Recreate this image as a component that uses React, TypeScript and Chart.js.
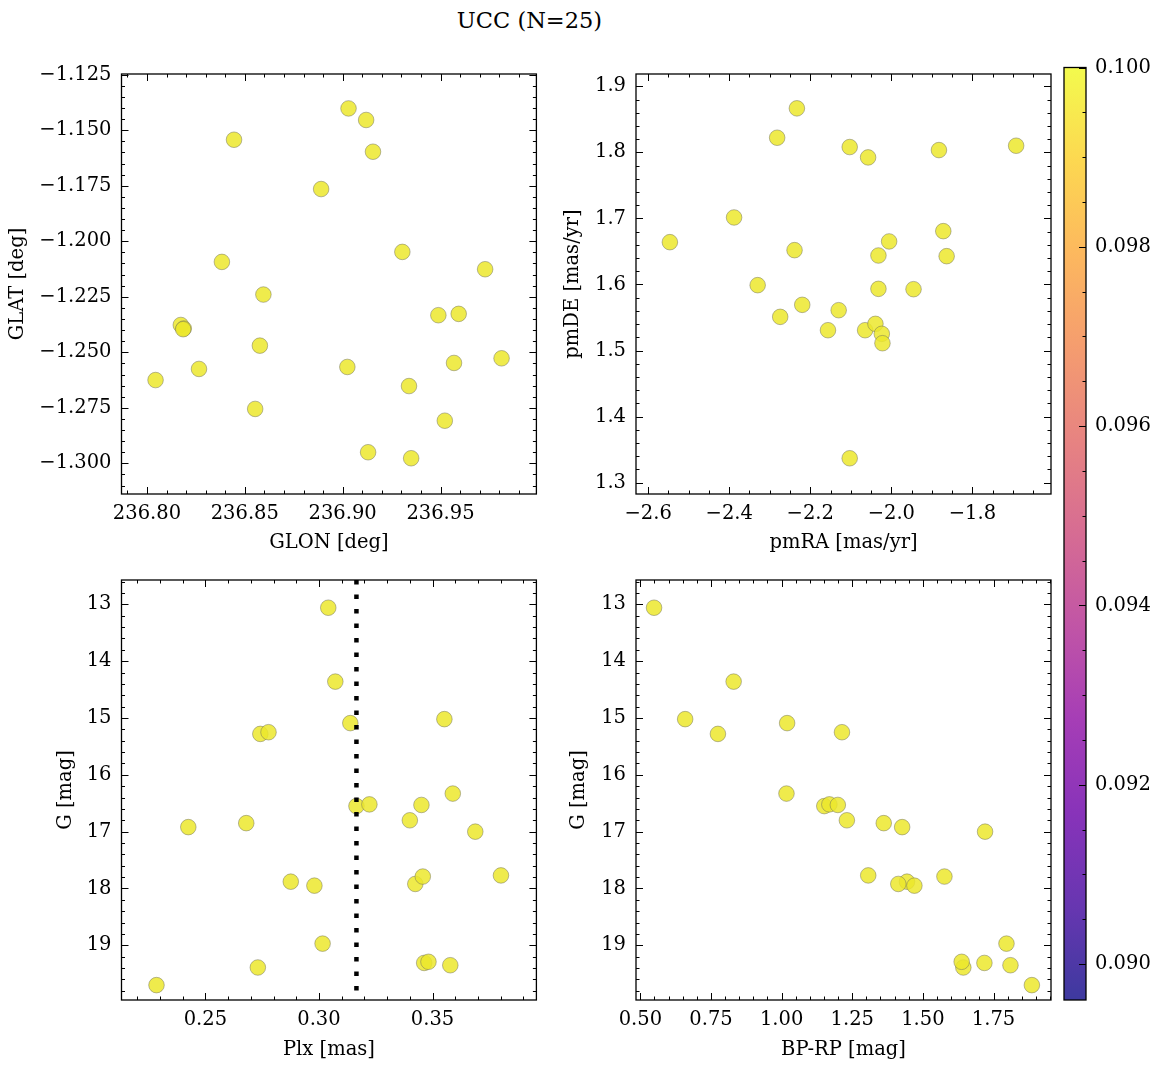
import React, { useEffect, useRef } from "react";
import { Chart, registerables } from "chart.js";

Chart.register(...registerables);

const FONT = "'DejaVu Serif', serif";

// ---------------- data ----------------
const figureTitle = "UCC (N=25)";

// Panel 1: GLON / GLAT
const glon = [236.903, 236.912, 236.9155, 236.8445, 236.889, 236.9305, 236.8383, 236.9728, 236.8595, 236.9489, 236.9593, 236.8173, 236.8188, 236.8185, 236.8577, 236.9812, 236.9024, 236.9569, 236.8266, 236.8044, 236.9339, 236.8553, 236.9522, 236.913, 236.935];
const glat = [-1.1402, -1.1454, -1.1597, -1.1543, -1.1765, -1.2048, -1.2093, -1.2126, -1.224, -1.2333, -1.2327, -1.2377, -1.2393, -1.2396, -1.247, -1.2527, -1.2566, -1.2548, -1.2575, -1.2625, -1.2652, -1.2755, -1.2808, -1.295, -1.2977];

// Panel 2: proper motions
const pmra = [-2.233, -2.2817, -2.1027, -2.0573, -1.8825, -1.692, -2.388, -2.5464, -2.2388, -2.0054, -1.8718, -2.0318, -1.8635, -2.3298, -2.0318, -1.9452, -2.2198, -2.2742, -2.1299, -2.1563, -2.0647, -2.0392, -2.0235, -2.0219, -2.1027];
const pmde = [1.8667, 1.8222, 1.8081, 1.7924, 1.8035, 1.8101, 1.7015, 1.6641, 1.652, 1.6652, 1.6808, 1.6439, 1.6429, 1.599, 1.5934, 1.5929, 1.5692, 1.551, 1.5611, 1.5308, 1.5308, 1.5404, 1.5253, 1.5111, 1.3369];

// Panels 3 & 4: photometry / parallax
const gmag = [13.06, 14.36, 15.02, 15.09, 15.28, 15.25, 16.33, 16.55, 16.52, 16.53, 16.8, 16.85, 16.92, 17.0, 17.77, 17.88, 17.95, 17.92, 17.79, 18.97, 19.39, 19.31, 19.29, 19.35, 19.7];
const plx = [0.3041, 0.3072, 0.3552, 0.3138, 0.2742, 0.2778, 0.3589, 0.3165, 0.3222, 0.3451, 0.34, 0.268, 0.2425, 0.3688, 0.3801, 0.2876, 0.298, 0.3424, 0.3457, 0.3016, 0.2731, 0.3463, 0.3482, 0.3578, 0.2285];
const bprp = [0.5485, 0.8302, 0.6586, 1.0195, 0.7746, 1.2136, 1.0172, 1.151, 1.169, 1.199, 1.231, 1.3615, 1.4266, 1.7201, 1.3066, 1.4438, 1.47, 1.413, 1.5763, 1.7959, 1.6432, 1.7178, 1.6373, 1.81, 1.8858];

const plxMedian = 0.3165;

// axis limits
const glonLim: [number, number] = [236.787, 236.999];
const glatLim: [number, number] = [-1.3138, -1.1247];
const pmraLim: [number, number] = [-2.63, -1.606];
const pmdeLim: [number, number] = [1.2828, 1.9187];
const plxLim: [number, number] = [0.2131, 0.3957];
const bprpLim: [number, number] = [0.4846, 1.9535];
const gLim: [number, number] = [12.572, 19.962];

// colorbar
const cbarLim: [number, number] = [0.0896, 0.1];
const cbarStep = 0.002;
const plasmaStops = ["#0d0887", "#41049d", "#6a00a8", "#8f0da4", "#b12a90", "#cc4778", "#e16462", "#f2844b", "#fca636", "#fcce25", "#f0f921"];

// ---------------- style ----------------
const TICK_SIZE = 19.5;
const LABEL_SIZE = 19.5;
const LH = 1.2;
const MAJ = 7;
const MIN = 3.5;
const POINT_FILL = "rgba(236,232,45,0.85)";
const POINT_EDGE = "rgba(110,110,90,0.6)";

function hexToRgba(h: string, a: number) {
  const n = parseInt(h.slice(1), 16);
  return `rgba(${(n >> 16) & 255},${(n >> 8) & 255},${n & 255},${a})`;
}

const fmt = (dec: number) => (v: any) => {
  const s = Number(v).toFixed(dec);
  return s.replace("-", "\u2212");
};

function forEachStep(min: number, max: number, step: number, fn: (v: number) => void) {
  const lo = Math.min(min, max);
  const hi = Math.max(min, max);
  const s = Math.ceil(lo / step - 1e-6);
  const e = Math.floor(hi / step + 1e-6);
  for (let k = s; k <= e; k++) fn(k * step);
}
const isMajor = (v: number, major: number) => Math.abs(v / major - Math.round(v / major)) < 1e-4;

type Spec = {
  box: { left: number; top: number; width: number; height: number };
  area: { l: number; t: number; r: number; b: number };
  xData: number[];
  yData: number[];
  xLim: [number, number];
  yLim: [number, number];
  xMajor: number;
  xMinor: number;
  yMajor: number;
  yMinor: number;
  xDec: number;
  yDec: number;
  reverseY: boolean;
  xLabel: string;
  yLabel: string;
  yLabelX: number;
  xLabelY: number;
  vline?: number;
};

const specs: Spec[] = [
  {
    box: { left: 0, top: 40, width: 545, height: 520 },
    area: { l: 121.5, t: 74, r: 537, b: 494 },
    xData: glon, yData: glat, xLim: glonLim, yLim: glatLim,
    xMajor: 0.05, xMinor: 0.01, yMajor: 0.025, yMinor: 0.005, xDec: 2, yDec: 3,
    reverseY: false, xLabel: "GLON [deg]", yLabel: "GLAT [deg]", yLabelX: 18, xLabelY: 543,
  },
  {
    box: { left: 548, top: 40, width: 513, height: 520 },
    area: { l: 636, t: 74, r: 1051, b: 494 },
    xData: pmra, yData: pmde, xLim: pmraLim, yLim: pmdeLim,
    xMajor: 0.2, xMinor: 0.05, yMajor: 0.1, yMinor: 0.02, xDec: 1, yDec: 1,
    reverseY: false, xLabel: "pmRA [mas/yr]", yLabel: "pmDE [mas/yr]", yLabelX: 573, xLabelY: 543,
  },
  {
    box: { left: 0, top: 546, width: 545, height: 520 },
    area: { l: 121.5, t: 580, r: 537, b: 1000 },
    xData: plx, yData: gmag, xLim: plxLim, yLim: gLim,
    xMajor: 0.05, xMinor: 0.01, yMajor: 1, yMinor: 0.2, xDec: 2, yDec: 0,
    reverseY: true, xLabel: "Plx [mas]", yLabel: "G [mag]", yLabelX: 66, xLabelY: 1050,
    vline: plxMedian,
  },
  {
    box: { left: 548, top: 546, width: 513, height: 520 },
    area: { l: 636, t: 580, r: 1051, b: 1000 },
    xData: bprp, yData: gmag, xLim: bprpLim, yLim: gLim,
    xMajor: 0.25, xMinor: 0.05, yMajor: 1, yMinor: 0.2, xDec: 2, yDec: 0,
    reverseY: true, xLabel: "BP-RP [mag]", yLabel: "G [mag]", yLabelX: 579, xLabelY: 1050,
  },
];

function framePlugin(spec: Spec) {
  return {
    id: "frameTicks",
    afterDraw(chart: any) {
      const { ctx, chartArea: a } = chart;
      const sx = chart.scales.x;
      const sy = chart.scales.y;
      ctx.save();
      ctx.strokeStyle = "#000";
      ctx.lineWidth = 1;
      ctx.beginPath();
      forEachStep(sx.min, sx.max, spec.xMinor, (v) => {
        const len = isMajor(v, spec.xMajor) ? MAJ : MIN;
        const p = Math.round(sx.getPixelForValue(v)) + 0.5;
        ctx.moveTo(p, a.bottom);
        ctx.lineTo(p, a.bottom - len);
        ctx.moveTo(p, a.top);
        ctx.lineTo(p, a.top + len);
      });
      forEachStep(sy.min, sy.max, spec.yMinor, (v) => {
        const len = isMajor(v, spec.yMajor) ? MAJ : MIN;
        const p = Math.round(sy.getPixelForValue(v)) + 0.5;
        ctx.moveTo(a.left, p);
        ctx.lineTo(a.left + len, p);
        ctx.moveTo(a.right, p);
        ctx.lineTo(a.right - len, p);
      });
      ctx.stroke();
      ctx.lineWidth = 1.3;
      ctx.strokeRect(a.left, a.top, a.right - a.left, a.bottom - a.top);
      ctx.restore();
    },
  };
}

function buildPanel(canvas: HTMLCanvasElement, spec: Spec) {
  const { box, area } = spec;
  const lhLabel = LABEL_SIZE * LH;
  const yAxisW = area.l - box.left;
  const xAxisH = box.top + box.height - area.b;
  const padTop = area.t - box.top;
  const padRight = box.left + box.width - area.r;
  const xTitlePad = box.top + box.height - spec.xLabelY - lhLabel / 2;
  const yTitlePad = spec.yLabelX - box.left - lhLabel / 2;
  const tickFont = { family: FONT, size: TICK_SIZE };
  const labelFont = { family: FONT, size: LABEL_SIZE };

  const datasets: any[] = [];
  if (spec.vline !== undefined) {
    datasets.push({
      type: "line",
      data: [
        { x: spec.vline, y: spec.yLim[0] },
        { x: spec.vline, y: spec.yLim[1] },
      ],
      borderColor: "#000",
      borderWidth: 4.5,
      borderDash: [4.5, 10],
      borderCapStyle: "butt",
      pointRadius: 0,
      fill: false,
      order: 0,
    });
  }
  datasets.push({
    type: "scatter",
    data: spec.xData.map((x, i) => ({ x, y: spec.yData[i] })),
    pointRadius: 7.8,
    pointBackgroundColor: POINT_FILL,
    pointBorderColor: POINT_EDGE,
    pointBorderWidth: 0.8,
    order: 1,
  });

  return new Chart(canvas, {
    type: "scatter",
    data: { datasets },
    options: {
      responsive: false,
      maintainAspectRatio: false,
      animation: false,
      devicePixelRatio: 1,
      layout: { padding: { top: padTop, right: padRight, left: 0, bottom: 0 } },
      plugins: { legend: { display: false }, tooltip: { enabled: false }, title: { display: false } },
      scales: {
        x: {
          type: "linear",
          min: spec.xLim[0],
          max: spec.xLim[1],
          grid: { display: false, drawTicks: false },
          border: { display: false },
          ticks: {
            stepSize: spec.xMajor,
            includeBounds: false,
            autoSkip: false,
            maxRotation: 0,
            padding: 8.3,
            color: "#000",
            font: tickFont,
            callback: fmt(spec.xDec),
          },
          title: {
            display: true,
            text: spec.xLabel,
            color: "#000",
            font: labelFont,
            padding: { top: 0, bottom: xTitlePad },
          },
          afterFit: (s: any) => {
            s.height = xAxisH;
          },
        },
        y: {
          type: "linear",
          min: spec.yLim[0],
          max: spec.yLim[1],
          reverse: spec.reverseY,
          grid: { display: false, drawTicks: false },
          border: { display: false },
          ticks: {
            stepSize: spec.yMajor,
            includeBounds: false,
            autoSkip: false,
            padding: 10,
            color: "#000",
            font: tickFont,
            callback: fmt(spec.yDec),
          },
          title: {
            display: true,
            text: spec.yLabel,
            color: "#000",
            font: labelFont,
            padding: { top: yTitlePad, bottom: 0 },
          },
          afterFit: (s: any) => {
            s.width = yAxisW;
          },
        },
      },
    },
    plugins: [framePlugin(spec)],
  } as any);
}

const cbarBox = { left: 1055, top: 40, width: 106, height: 990 };
const cbarArea = { l: 1064, t: 67.5, r: 1086, b: 1000 };

function buildColorbar(canvas: HTMLCanvasElement) {
  const box = cbarBox;
  const area = cbarArea;
  const gradientPlugin = {
    id: "cbar",
    beforeDatasetsDraw(chart: any) {
      const { ctx, chartArea: a } = chart;
      const g = ctx.createLinearGradient(0, a.bottom, 0, a.top);
      plasmaStops.forEach((c, i) => g.addColorStop(i / (plasmaStops.length - 1), hexToRgba(c, 0.8)));
      ctx.save();
      ctx.fillStyle = g;
      ctx.fillRect(a.left, a.top, a.right - a.left, a.bottom - a.top);
      ctx.restore();
    },
    afterDraw(chart: any) {
      const { ctx, chartArea: a } = chart;
      const sy = chart.scales.y;
      ctx.save();
      ctx.strokeStyle = "#000";
      ctx.lineWidth = 1;
      ctx.beginPath();
      forEachStep(sy.min, sy.max, cbarStep / 4, (v) => {
        const len = isMajor(v, cbarStep) ? MAJ : MIN;
        const p = Math.round(sy.getPixelForValue(v)) + 0.5;
        ctx.moveTo(a.right, p);
        ctx.lineTo(a.right - len, p);
      });
      ctx.stroke();
      ctx.lineWidth = 1.3;
      ctx.strokeRect(a.left, a.top, a.right - a.left, a.bottom - a.top);
      ctx.restore();
    },
  };
  return new Chart(canvas, {
    type: "scatter",
    data: { datasets: [] },
    options: {
      responsive: false,
      maintainAspectRatio: false,
      animation: false,
      devicePixelRatio: 1,
      layout: {
        padding: {
          left: area.l - box.left,
          top: area.t - box.top,
          bottom: box.top + box.height - area.b,
          right: 0,
        },
      },
      plugins: { legend: { display: false }, tooltip: { enabled: false } },
      scales: {
        x: { type: "linear", display: false, min: 0, max: 1 },
        y: {
          type: "linear",
          position: "right",
          min: cbarLim[0],
          max: cbarLim[1],
          grid: { display: false, drawTicks: false },
          border: { display: false },
          ticks: {
            stepSize: cbarStep,
            includeBounds: false,
            autoSkip: false,
            padding: 9,
            color: "#000",
            font: { family: FONT, size: TICK_SIZE },
            callback: fmt(3),
          },
          afterFit: (s: any) => {
            s.width = box.left + box.width - area.r;
          },
        },
      },
    },
    plugins: [gradientPlugin],
  } as any);
}

function ChartCanvas(props: { box: { left: number; top: number; width: number; height: number }; build: (c: HTMLCanvasElement) => Chart }) {
  const ref = useRef<HTMLCanvasElement | null>(null);
  const { box, build } = props;
  useEffect(() => {
    const chart = build(ref.current as HTMLCanvasElement);
    return () => chart.destroy();
  }, []);
  return (
    <canvas
      ref={ref}
      width={box.width}
      height={box.height}
      style={{ position: "absolute", left: box.left, top: box.top, width: box.width, height: box.height }}
    />
  );
}

export default function App() {
  return (
    <div
      style={{
        position: "fixed",
        left: 0,
        top: 0,
        width: 1161,
        height: 1067,
        overflow: "hidden",
        background: "#fff",
      }}
    >
      <div
        style={{
          position: "absolute",
          left: 0,
          top: 7,
          width: 1059,
          textAlign: "center",
          fontFamily: FONT,
          fontSize: 22.5,
          lineHeight: "26px",
          color: "#000",
        }}
      >
        {figureTitle}
      </div>
      {specs.map((s, i) => (
        <ChartCanvas key={i} box={s.box} build={(c) => buildPanel(c, s)} />
      ))}
      <ChartCanvas box={cbarBox} build={buildColorbar} />
    </div>
  );
}
